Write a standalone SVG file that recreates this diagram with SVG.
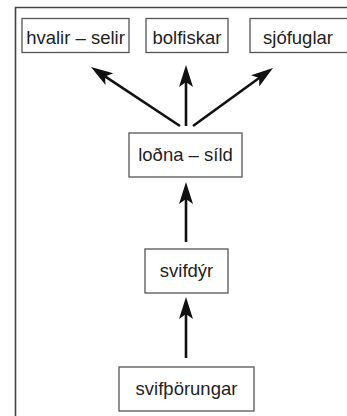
<svg xmlns="http://www.w3.org/2000/svg" width="347" height="416" viewBox="0 0 347 416">
<style>
.box{fill:#fff;stroke:#555;stroke-width:1.3}
.lbl{font-family:"Liberation Sans",Arial,sans-serif;font-size:18.5px;fill:#222;text-anchor:middle}
.arr{stroke:#111;stroke-width:2.6;fill:none;marker-end:url(#ah)}
</style>
<defs>
<marker id="ah" markerUnits="userSpaceOnUse" markerWidth="24" markerHeight="14" refX="16" refY="7" orient="auto" overflow="visible">
<path d="M0,0 L22,7 L0,14 L5,7 Z" fill="#111"/>
</marker>
</defs>
<rect width="347" height="416" fill="#fff"/>
<path d="M15.5,416 V7.5 H350" fill="none" stroke="#444" stroke-width="1.6"/>
<g id="connectors">
<line class="arr" x1="180" y1="126" x2="96" y2="70.3"/>
<line class="arr" x1="186" y1="126" x2="186" y2="71"/>
<line class="arr" x1="193" y1="126" x2="268.1" y2="71.5"/>
<line class="arr" x1="186" y1="242" x2="186" y2="188"/>
<line class="arr" x1="186" y1="358" x2="186" y2="303"/>
</g>
<g id="hvalir"><rect class="box" x="22" y="18.5" width="107" height="34"/><text class="lbl" x="75.5" y="44">hvalir – selir</text></g>
<g id="bolfiskar"><rect class="box" x="146" y="18.5" width="82" height="34"/><text class="lbl" x="187" y="44">bolfiskar</text></g>
<g id="sjofuglar"><rect class="box" x="250" y="18.5" width="100" height="34"/><text class="lbl" x="298" y="44">sjófuglar</text></g>
<g id="lodna"><rect class="box" x="129" y="133" width="113" height="44"/><text class="lbl" x="185.5" y="161">loðna – síld</text></g>
<g id="svifdyr"><rect class="box" x="145" y="249" width="83" height="44"/><text class="lbl" x="186.5" y="277">svifdýr</text></g>
<g id="svifthorungar"><rect class="box" x="119" y="367" width="135" height="44"/><text class="lbl" x="186.5" y="395">svifþörungar</text></g>
</svg>
